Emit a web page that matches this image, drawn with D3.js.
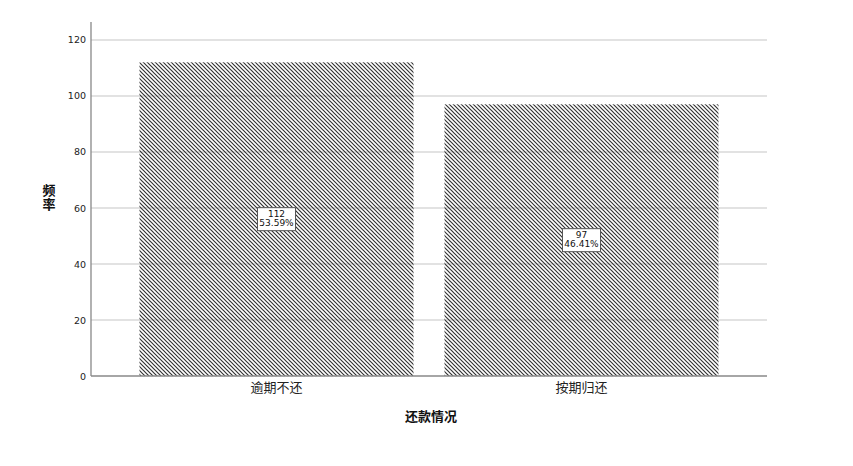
<!DOCTYPE html>
<html>
<head>
<meta charset="utf-8">
<script src="https://cdn.jsdelivr.net/npm/d3@7"></script>
<style>
  body { margin: 0; background: #fff; }
  text { font-family: "Noto Sans CJK SC", "DejaVu Sans", sans-serif; }
</style>
</head>
<body>
<div id="chart"></div>
<script>
// Data
const categories = ['逾期不还', '按期归还'];
const counts = [112, 97];
const percents = ['53.59%', '46.41%'];
const yTicks = [0, 20, 40, 60, 80, 100, 120];

function draw() {
    const dimensions = {
        width: 853,
        height: 466,
        margin: { top: 22, bottom: 90, left: 91, right: 86 },
    };
    dimensions.ctrWidth = dimensions.width - dimensions.margin.left - dimensions.margin.right;
    dimensions.ctrHeight = dimensions.height - dimensions.margin.top - dimensions.margin.bottom;

    const svg = d3.select('#chart')
        .append('svg')
        .attr('width', dimensions.width)
        .attr('height', dimensions.height);

    // hatch pattern
    const defs = svg.append('defs');
    const pat = defs.append('pattern')
        .attr('id', 'hatch')
        .attr('patternUnits', 'userSpaceOnUse')
        .attr('width', 4)
        .attr('height', 4);
    pat.append('path')
        .attr('d', 'M0,0 L4,4 M-1,3 L1,5 M3,-1 L5,1')
        .attr('stroke', '#333')
        .attr('stroke-width', 1.2);

    const ctr = svg.append('g')
        .attr('transform', `translate(${dimensions.margin.left}, ${dimensions.margin.top})`);

    // Scales
    const yScale = d3.scaleLinear()
        .domain([0, 126.4])
        .range([dimensions.ctrHeight, 0]);

    const xScale = d3.scaleBand()
        .domain(categories)
        .range([0, dimensions.ctrWidth])
        .paddingInner(0.1016)
        .paddingOuter(0.159);

    // Grid
    ctr.append('g')
        .selectAll('line')
        .data(yTicks.filter(d => d > 0))
        .join('line')
        .attr('x1', 0)
        .attr('x2', dimensions.ctrWidth)
        .attr('y1', d => yScale(d))
        .attr('y2', d => yScale(d))
        .attr('stroke', '#d9d9d9')
        .attr('stroke-width', 1.5);

    // Bars
    ctr.append('g')
        .selectAll('rect')
        .data(counts)
        .join('rect')
        .attr('x', (d, i) => xScale(categories[i]))
        .attr('width', xScale.bandwidth())
        .attr('y', d => yScale(d))
        .attr('height', d => dimensions.ctrHeight - yScale(d))
        .attr('fill', 'url(#hatch)');

    // Value labels
    const labels = ctr.append('g')
        .selectAll('g')
        .data(counts)
        .join('g')
        .attr('transform', (d, i) =>
            `translate(${xScale(categories[i]) + xScale.bandwidth() / 2}, ${(yScale(d) + dimensions.ctrHeight) / 2})`);
    labels.append('rect')
        .attr('x', -19)
        .attr('y', -11.5)
        .attr('width', 38)
        .attr('height', 23)
        .attr('fill', '#fff')
        .attr('stroke', '#555')
        .attr('stroke-width', 1);
    labels.append('text')
        .attr('y', -2)
        .attr('text-anchor', 'middle')
        .style('font-family', 'DejaVu Sans')
        .style('font-size', '9px')
        .attr('fill', '#111')
        .text(d => d);
    labels.append('text')
        .attr('y', 7)
        .attr('text-anchor', 'middle')
        .style('font-family', 'DejaVu Sans')
        .style('font-size', '9px')
        .attr('fill', '#111')
        .text((d, i) => percents[i]);

    // Axes
    const yAxis = d3.axisLeft(yScale)
        .tickValues(yTicks)
        .tickSize(0)
        .tickPadding(5);
    const yAxisGroup = ctr.append('g').call(yAxis);
    yAxisGroup.select('.domain').remove();
    yAxisGroup.selectAll('text')
        .style('font-family', 'DejaVu Sans')
        .style('font-size', '9.5px')
        .attr('fill', '#222');
    ctr.append('line')
        .attr('x1', 0).attr('x2', 0)
        .attr('y1', 0).attr('y2', dimensions.ctrHeight)
        .attr('stroke', '#888')
        .attr('stroke-width', 1.3);

    const xAxis = d3.axisBottom(xScale).tickSize(0).tickPadding(7);
    const xAxisGroup = ctr.append('g')
        .attr('transform', `translate(0, ${dimensions.ctrHeight})`)
        .call(xAxis);
    xAxisGroup.select('.domain').remove();
    xAxisGroup.selectAll('text')
        .style('font-family', 'Noto Sans CJK SC')
        .style('font-size', '13px')
        .attr('fill', '#222');
    ctr.append('line')
        .attr('x1', 0).attr('x2', dimensions.ctrWidth)
        .attr('y1', dimensions.ctrHeight).attr('y2', dimensions.ctrHeight)
        .attr('stroke', '#888')
        .attr('stroke-width', 1.3);

    // Titles
    svg.append('text')
        .attr('x', dimensions.margin.left + dimensions.ctrWidth / 2 + 2)
        .attr('y', 421)
        .attr('text-anchor', 'middle')
        .style('font-size', '13px')
        .style('font-weight', 'bold')
        .attr('fill', '#111')
        .text('还款情况');

    // vertical y title, one character under the other
    svg.append('text')
        .attr('x', 49)
        .attr('y', 198)
        .attr('text-anchor', 'middle')
        .style('writing-mode', 'vertical-rl')
        .style('text-orientation', 'upright')
        .style('letter-spacing', '1px')
        .style('font-size', '13px')
        .style('font-weight', 'bold')
        .attr('fill', '#111')
        .text('频率');
}

draw();
</script>
</body>
</html>
